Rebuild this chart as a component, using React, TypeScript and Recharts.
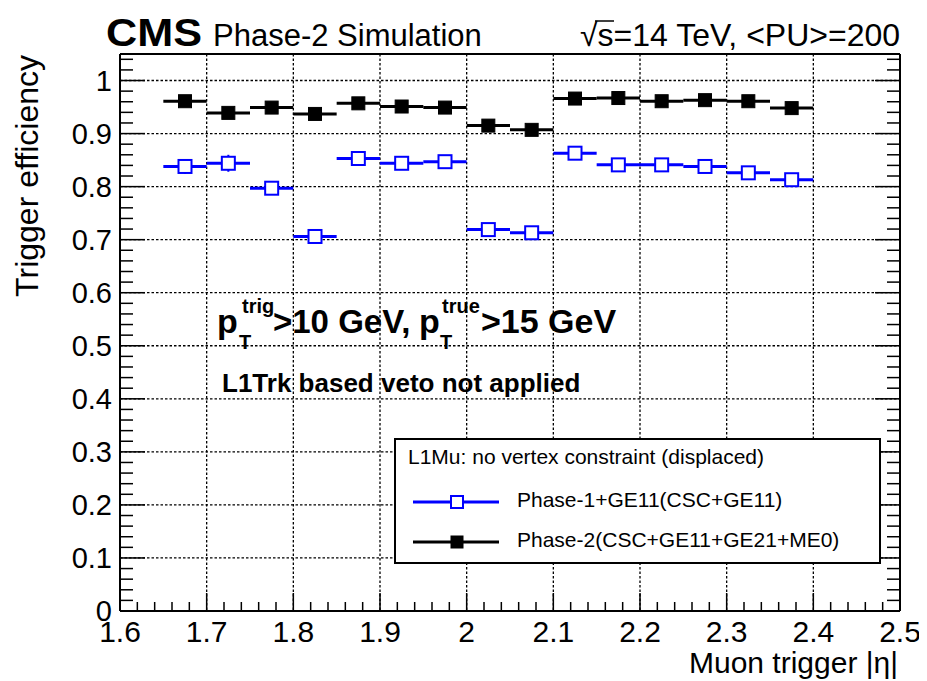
import React from 'react';
import { ComposedChart, Scatter, XAxis, YAxis, CartesianGrid, ErrorBar } from 'recharts';

// |eta| bin centres (bin width 0.05)
const ETA_CENTERS = [1.675, 1.725, 1.775, 1.825, 1.875, 1.925, 1.975, 2.025, 2.075, 2.125, 2.175, 2.225, 2.275, 2.325, 2.375];
const BIN_HALF_WIDTH = 0.025;

// Phase-1 + GE11 (CSC+GE11)
const PHASE1_EFF = [0.838, 0.844, 0.797, 0.706, 0.853, 0.844, 0.847, 0.719, 0.713, 0.863, 0.841, 0.841, 0.838, 0.826, 0.813];
const PHASE1_ERR = [0.014, 0.016, 0.008, 0.008, 0.008, 0.008, 0.008, 0.008, 0.008, 0.008, 0.007, 0.007, 0.007, 0.007, 0.007];

// Phase-2 (CSC+GE11+GE21+ME0)
const PHASE2_EFF = [0.961, 0.939, 0.949, 0.937, 0.957, 0.951, 0.949, 0.915, 0.907, 0.966, 0.967, 0.961, 0.963, 0.961, 0.948];
const PHASE2_ERR = [0.005, 0.005, 0.005, 0.005, 0.005, 0.005, 0.005, 0.005, 0.005, 0.005, 0.005, 0.005, 0.005, 0.005, 0.005];

// Axis ticks and labels
const X_MAJOR = [1.6, 1.7, 1.8, 1.9, 2.0, 2.1, 2.2, 2.3, 2.4, 2.5];
const X_LABELS = ['1.6', '1.7', '1.8', '1.9', '2', '2.1', '2.2', '2.3', '2.4', '2.5'];
const Y_MAJOR = [0, 0.1, 0.2, 0.3, 0.4, 0.5, 0.6, 0.7, 0.8, 0.9, 1.0];
const Y_LABELS = ['0', '0.1', '0.2', '0.3', '0.4', '0.5', '0.6', '0.7', '0.8', '0.9', '1'];
const X_DOMAIN: [number, number] = [1.6, 2.5];
const Y_DOMAIN: [number, number] = [0, 1.05];

// minor tick grid every 0.02
const stepTicks = (from: number, to: number, step: number) => {
  const out: number[] = [];
  const n = Math.round((to - from) / step);
  for (let i = 0; i <= n; i++) out.push(Math.round((from + i * step) * 1000) / 1000);
  return out;
};
const X_TICKS = stepTicks(1.6, 2.5, 0.02);
const Y_TICKS = stepTicks(0, 1.04, 0.02);

const phase1 = ETA_CENTERS.map((eta, i) => ({ eta, eff: PHASE1_EFF[i], xerr: BIN_HALF_WIDTH, yerr: PHASE1_ERR[i] }));
const phase2 = ETA_CENTERS.map((eta, i) => ({ eta, eff: PHASE2_EFF[i], xerr: BIN_HALF_WIDTH, yerr: PHASE2_ERR[i] }));

const majorIndex = (list: number[], v: number) => list.findIndex((m) => Math.abs(m - v) < 1e-6);

const FONT = '"Liberation Sans", Arial, Helvetica, sans-serif';
const BLUE = '#0000ff';

const X_MAJOR_LEN = 18;
const X_MINOR_LEN = 9;
const Y_MAJOR_LEN = 25;
const Y_MINOR_LEN = 13;

const BottomTick = (props: any) => {
  const { x, y, payload } = props;
  const idx = majorIndex(X_MAJOR, payload.value);
  const len = idx >= 0 ? X_MAJOR_LEN : X_MINOR_LEN;
  return (
    <g>
      <line x1={x} x2={x} y1={y} y2={y - len} stroke="#000" strokeWidth={1.5} />
      {idx >= 0 && (
        <text x={x} y={y + 31} textAnchor="middle" fontSize={30} fontFamily={FONT} fill="#000">
          {X_LABELS[idx]}
        </text>
      )}
    </g>
  );
};

const TopTick = (props: any) => {
  const { x, y, payload } = props;
  const idx = majorIndex(X_MAJOR, payload.value);
  const len = idx >= 0 ? X_MAJOR_LEN : X_MINOR_LEN;
  return <line x1={x} x2={x} y1={y} y2={y + len} stroke="#000" strokeWidth={1.5} />;
};

const LeftTick = (props: any) => {
  const { x, y, payload } = props;
  const idx = majorIndex(Y_MAJOR, payload.value);
  const len = idx >= 0 ? Y_MAJOR_LEN : Y_MINOR_LEN;
  return (
    <g>
      <line x1={x} x2={x + len} y1={y} y2={y} stroke="#000" strokeWidth={1.5} />
      {idx >= 0 && (
        <text x={x - 8} y={y + 10} textAnchor="end" fontSize={29} fontFamily={FONT} fill="#000">
          {Y_LABELS[idx]}
        </text>
      )}
    </g>
  );
};

const RightTick = (props: any) => {
  const { x, y, payload } = props;
  const idx = majorIndex(Y_MAJOR, payload.value);
  const len = idx >= 0 ? Y_MAJOR_LEN : Y_MINOR_LEN;
  return <line x1={x} x2={x - len} y1={y} y2={y} stroke="#000" strokeWidth={1.5} />;
};

const OpenSquare = (p: any) => (
  <rect x={p.cx - 6.5} y={p.cy - 6.5} width={13} height={13} fill="#fff" stroke={BLUE} strokeWidth={2} />
);
const FilledSquare = (p: any) => (
  <rect x={p.cx - 6.5} y={p.cy - 6.5} width={13} height={13} fill="#000" stroke="#000" strokeWidth={1} />
);

const axisLine = { stroke: '#000', strokeWidth: 2 };

export default function App() {
  return (
    <div style={{ position: 'relative', width: 919, height: 673, fontFamily: FONT }}>
      <ComposedChart width={919} height={665} margin={{ top: 45, right: 26, bottom: 61, left: 111 }}>
        <CartesianGrid
          verticalValues={X_MAJOR}
          horizontalValues={Y_MAJOR}
          stroke="#000"
          strokeWidth={1.3}
          strokeDasharray="2.5 2"
        />
        <XAxis
          type="number"
          dataKey="eta"
          domain={X_DOMAIN}
          allowDataOverflow
          ticks={X_TICKS}
          interval={0}
          height={1}
          tickSize={0}
          tickMargin={0}
          tickLine={false}
          axisLine={axisLine}
          tick={BottomTick}
        />
        <XAxis
          xAxisId="top"
          orientation="top"
          type="number"
          domain={X_DOMAIN}
          allowDataOverflow
          ticks={X_TICKS}
          interval={0}
          height={1}
          tickSize={0}
          tickMargin={0}
          tickLine={false}
          axisLine={axisLine}
          tick={TopTick}
        />
        <YAxis
          type="number"
          dataKey="eff"
          domain={Y_DOMAIN}
          allowDataOverflow
          ticks={Y_TICKS}
          interval={0}
          width={1}
          tickSize={0}
          tickMargin={0}
          tickLine={false}
          axisLine={axisLine}
          tick={LeftTick}
        />
        <YAxis
          yAxisId="right"
          orientation="right"
          type="number"
          domain={Y_DOMAIN}
          allowDataOverflow
          ticks={Y_TICKS}
          interval={0}
          width={1}
          tickSize={0}
          tickMargin={0}
          tickLine={false}
          axisLine={axisLine}
          tick={RightTick}
        />
        <Scatter data={phase1} dataKey="eff" shape={OpenSquare} isAnimationActive={false}>
          <ErrorBar dataKey="xerr" direction="x" width={0} stroke={BLUE} strokeWidth={3} isAnimationActive={false} />
          <ErrorBar dataKey="yerr" direction="y" width={0} stroke={BLUE} strokeWidth={2} isAnimationActive={false} />
        </Scatter>
        <Scatter data={phase2} dataKey="eff" shape={FilledSquare} isAnimationActive={false}>
          <ErrorBar dataKey="xerr" direction="x" width={0} stroke="#000" strokeWidth={3} isAnimationActive={false} />
          <ErrorBar dataKey="yerr" direction="y" width={0} stroke="#000" strokeWidth={2} isAnimationActive={false} />
        </Scatter>
      </ComposedChart>

      <svg
        width={919}
        height={681}
        style={{ position: 'absolute', left: -8, top: -8, pointerEvents: 'none', overflow: 'visible' }}
        fontFamily={FONT}
      >
        {/* header */}
        <text x={106} y={46} fontSize={38} fontWeight="bold" textLength={96} lengthAdjust="spacingAndGlyphs">CMS</text>
        <text x={213} y={46} fontSize={31}>Phase-2 Simulation</text>
        <text x={580} y={46} fontSize={32}>√s=14 TeV, &lt;PU&gt;=200</text>
        <line x1={595} x2={614} y1={21} y2={21} stroke="#000" strokeWidth={1.5} />

        {/* axis titles */}
        <text transform="translate(38,55) rotate(-90)" fontSize={32} textAnchor="end">Trigger efficiency</text>
        <text x={898} y={673} fontSize={30} textAnchor="end">Muon trigger |η|</text>

        {/* selection annotation */}
        <g fontWeight="bold">
          <text x={217} y={333} fontSize={34}>p</text>
          <text x={242} y={313} fontSize={20}>trig</text>
          <text x={239} y={349} fontSize={20}>T</text>
          <text x={273} y={333} fontSize={33}>&gt;10 GeV,</text>
          <text x={419} y={333} fontSize={34}>p</text>
          <text x={442} y={313} fontSize={20}>true</text>
          <text x={440} y={349} fontSize={20}>T</text>
          <text x={481} y={333} fontSize={34}>&gt;15 GeV</text>
          <text x={222} y={392} fontSize={26}>L1Trk based veto not applied</text>
        </g>

        {/* legend */}
        <rect x={395} y={439} width={485} height={124} fill="#fff" stroke="#000" strokeWidth={2} />
        <text x={408} y={464} fontSize={21}>L1Mu: no vertex constraint (displaced)</text>
        <line x1={413} x2={499} y1={502} y2={502} stroke={BLUE} strokeWidth={3} />
        <rect x={451} y={496} width={12} height={12} fill="#fff" stroke={BLUE} strokeWidth={2} />
        <text x={517} y={507} fontSize={21}>Phase-1+GE11(CSC+GE11)</text>
        <line x1={413} x2={499} y1={542} y2={542} stroke="#000" strokeWidth={3} />
        <rect x={450.5} y={535.5} width={13} height={13} fill="#000" />
        <text x={517} y={547} fontSize={21}>Phase-2(CSC+GE11+GE21+ME0)</text>
      </svg>
    </div>
  );
}
